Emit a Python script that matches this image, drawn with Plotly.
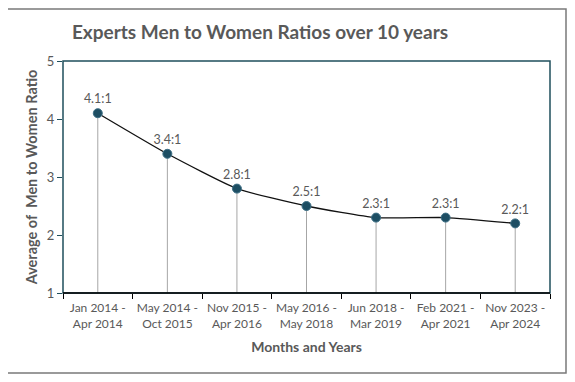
import plotly.graph_objects as go

categories = ["Jan 2014 -<br>Apr 2014", "May 2014 -<br>Oct 2015", "Nov 2015 -<br>Apr 2016",
              "May 2016 -<br>May 2018", "Jun 2018 -<br>Mar 2019", "Feb 2021 -<br>Apr 2021",
              "Nov 2023 -<br>Apr 2024"]
ratios = [4.1, 3.4, 2.8, 2.5, 2.3, 2.3, 2.2]
labels = ["4.1:1", "3.4:1", "2.8:1", "2.5:1", "2.3:1", "2.3:1", "2.2:1"]
y_base = 1

OFF = 8  # page body margin
W, H = 575 - OFF, 382 - OFF
L, R, T, B = 63 - OFF, 550 - OFF, 61 - OFF, 293 - OFF
pw, ph = R - L, B - T

def px(x):
    return (x - OFF - L) / pw

def py(y):
    return (B - (y - OFF)) / ph

fig = go.Figure()

# drop lines
fig.add_trace(go.Scatter(
    x=categories, y=ratios, mode="markers",
    marker=dict(size=1, color="rgba(0,0,0,0)"),
    error_y=dict(type="data", symmetric=False, array=[0] * len(ratios),
                 arrayminus=[v - y_base for v in ratios],
                 color="#a6a6a6", thickness=1, width=0),
    hoverinfo="skip", showlegend=False,
))

fig.add_trace(go.Scatter(
    x=categories, y=ratios, mode="lines+markers+text",
    line=dict(color="#111111", width=1.3, shape="spline", smoothing=0.5),
    marker=dict(size=9, color="#1d4e63", line=dict(color="#3d6f85", width=1)),
    text=labels, textposition="top center",
    textfont=dict(family="Lato, Open Sans, sans-serif", size=12.5, color="#595959"),
    showlegend=False,
))

shapes = [
    dict(type="rect", xref="paper", yref="paper",
         x0=px(7), x1=px(566), y0=py(373), y1=py(9),
         line=dict(color="#7a7a7a", width=1.5), layer="below"),
    dict(type="rect", xref="paper", yref="paper",
         x0=0, x1=1, y0=0, y1=1,
         line=dict(color="#1f4f5c", width=1.5), layer="above"),
    dict(type="line", xref="paper", yref="paper",
         x0=0, x1=1, y0=0, y1=0,
         line=dict(color="#000000", width=1.5), layer="above"),
]

fig.update_layout(
    width=W, height=H,
    margin=dict(l=L, r=W - R, t=T, b=H - B),
    paper_bgcolor="white", plot_bgcolor="white",
    shapes=shapes,
    title=dict(text="<b>Experts Men to Women Ratios over 10 years</b>",
               x=(260 - OFF) / W, xanchor="center", y=1 - (32 - OFF) / H, yanchor="middle",
               font=dict(family="Lato, Open Sans, sans-serif", size=19, color="#595959")),
    font=dict(family="Lato, Open Sans, sans-serif", color="#595959"),
)

fig.update_xaxes(
    type="category", showgrid=False, showline=False, automargin=False,
    ticks="outside", tickson="boundaries", ticklen=5, tickcolor="#000000", tickwidth=1,
    tickangle=0, ticklabelstandoff=6,
    tickfont=dict(size=12, color="#595959"),
    title=dict(text="<b>Months and Years</b>", font=dict(size=14, color="#595959"), standoff=12),
    range=[-0.5, 6.5],
)
fig.update_yaxes(
    range=[1, 5], dtick=1, showgrid=False, zeroline=False, showline=False, automargin=False,
    ticks="outside", ticklen=5, tickcolor="#1f4f5c", tickwidth=1,
    tickfont=dict(size=13, color="#595959"),
    title=dict(text="<b>Average of\u00a0\u00a0Men to Women Ratio</b>", font=dict(size=14.5, color="#595959"), standoff=5),
)

fig.write_html("out.html")
